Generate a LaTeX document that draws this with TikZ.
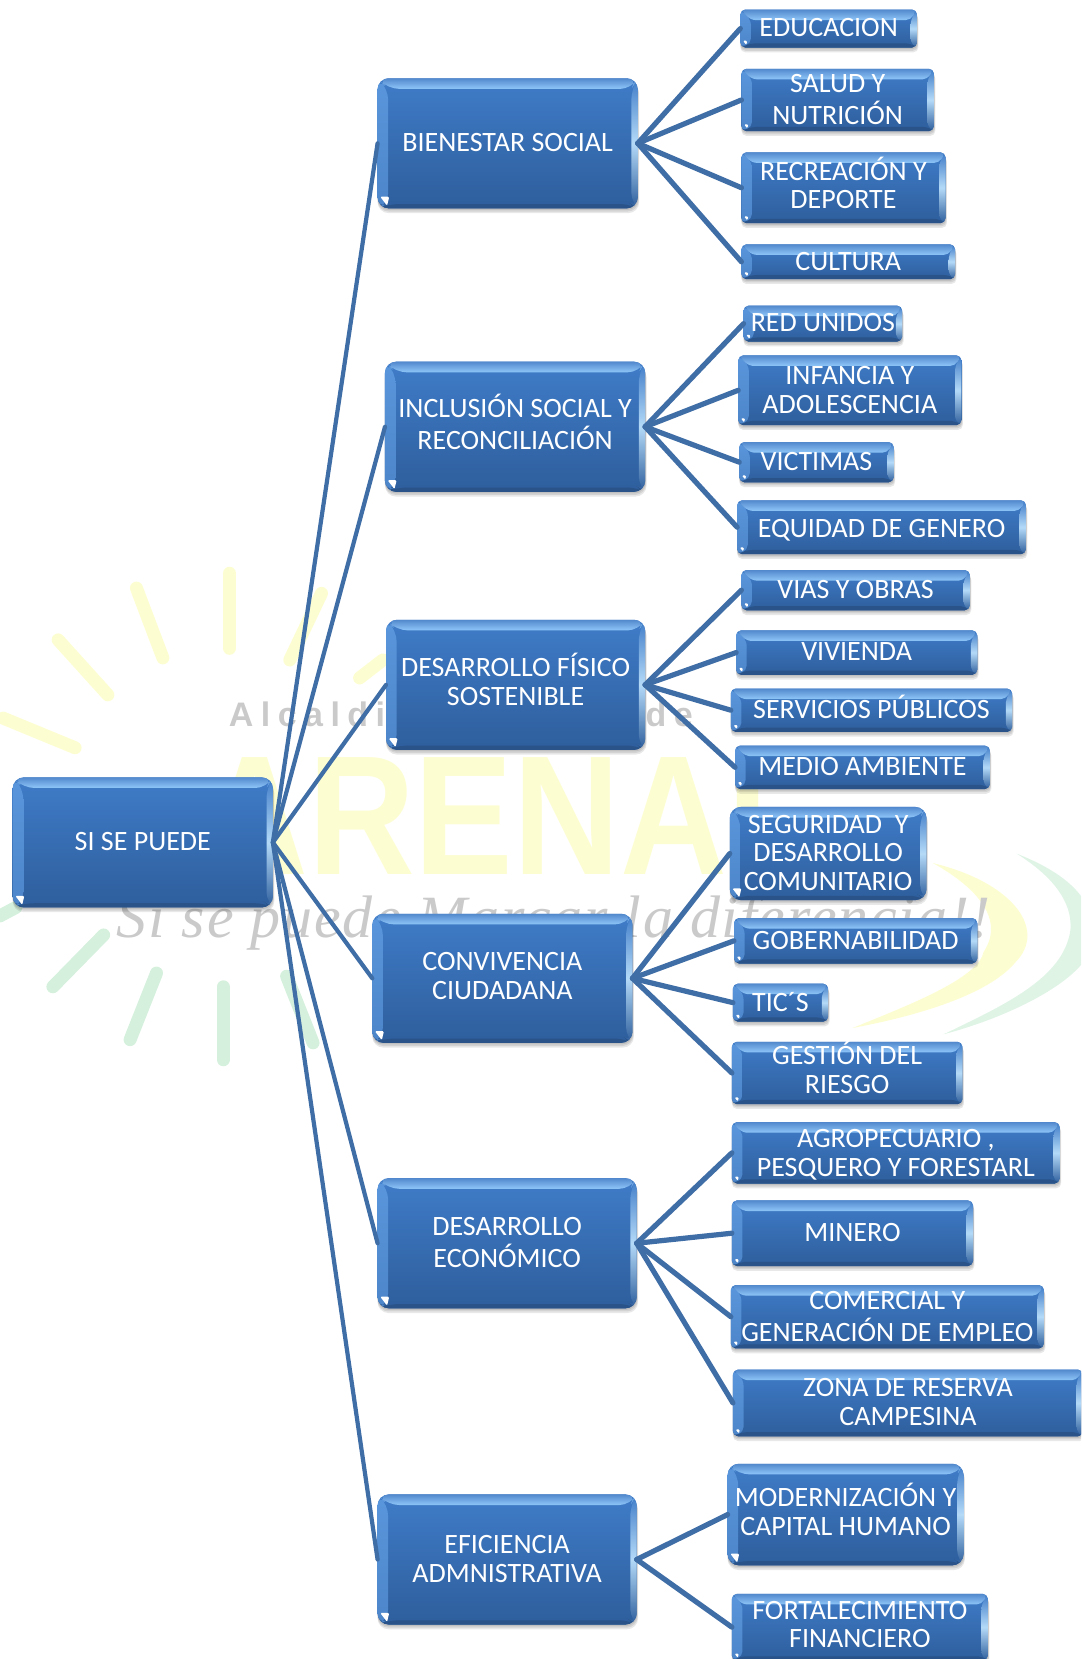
\documentclass[tikz,border=0pt]{standalone}
\usepackage{fontspec}
\setmainfont{Carlito}
\newfontfamily\wmsans[LetterSpace=22]{Liberation Sans}
\newfontfamily\wmbig{Liberation Sans}
\newfontfamily\wmscript[LetterSpace=3]{Liberation Serif}
\usetikzlibrary{calc}
\definecolor{rayY}{HTML}{FDFDD2}
\definecolor{rayG}{HTML}{D6F0DE}
\definecolor{wmGray}{HTML}{CACACA}
\definecolor{lnk}{HTML}{3F6DA6}
\definecolor{bodyT}{HTML}{3F7CC8}
\definecolor{bodyB}{HTML}{2E5E9C}
\definecolor{bevTop}{HTML}{8FC6F8}
\definecolor{bevRight}{HTML}{B4DAF8}
\definecolor{bevLeft}{HTML}{5A96DC}
\newcommand{\un}{0.5288}
\renewcommand{\arraystretch}{0.94}
\tikzset{
  yray/.style={line width=6.5pt,line cap=round,rayY},
  gray ray/.style={line width=6.5pt,line cap=round,rayG},
  link/.style={draw=lnk,line width=2.6pt,line cap=round},
  rootlink/.style={draw=lnk,line width=2.1pt,line cap=round},
  boxshadow/.style={fill=black,fill opacity=0.09},
  gbox/.style={rectangle,inner sep=0pt,outer sep=0pt,text=white,
    top color=bodyT,bottom color=bodyB,draw=none,
    font=\fontsize{14}{15.3}\selectfont,
    path picture={
      \coordinate (nw) at (path picture bounding box.north west);
      \coordinate (ne) at (path picture bounding box.north east);
      \coordinate (sw) at (path picture bounding box.south west);
      \coordinate (se) at (path picture bounding box.south east);
      \shade[top color=bevLeft,bottom color=bevLeft!70!bodyB] (nw) -- ($(nw)+(10,10)$) -- ($(sw)+(10,-4)$) -- (sw) -- cycle;
      \shade[top color=bodyT,bottom color=bodyB,middle color=bevRight] (ne) -- ($(ne)+(-6,10)$) -- ($(se)+(-6,-4)$) -- (se) -- cycle;
      \fill[bodyB!88!black] (sw) -- ($(sw)+(10,-4)$) -- ($(se)+(-6,-4)$) -- (se) -- cycle;
      \shade[top color=bodyT!90!white,bottom color=bevTop] (nw) -- ($(nw)+(10,10)$) -- ($(ne)+(-6,10)$) -- (ne) -- cycle;
      \fill[white,rounded corners=0.6pt] ($(sw)+(2.5,-3-\nt)$) -- ($(sw)+(3+\nt,-3-\nt)$) -- ($(sw)+(3+0.75*\nt,-2.5)$) -- cycle;
    }},
}
\newcommand{\gbox}[7][0]{%
  \pgfmathsetmacro{\bw}{(#5-#3)*\un}%
  \pgfmathsetmacro{\bh}{(#6-#4)*\un}%
  \pgfmathsetmacro{\nt}{((#6-#4)>80)?8:3.5}%
  \pgfmathsetmacro{\rc}{((#6-#4)>80)?5.5:2.5}%
  \foreach \o in {1.5,3,4.5}{\fill[boxshadow,rounded corners=\rc pt] (#3,{#4+\o}) rectangle ({#5+\o*0.3},{#6+\o});}%
  \node[gbox,rounded corners=\rc pt,minimum width=\bw pt,minimum height=\bh pt] (#2) at ({(#3+#5)/2},{(#4+#6)/2}) {\raisebox{\dimexpr#1pt-1.3pt\relax}[\height][\depth]{\begin{tabular}{@{}c@{}}#7\end{tabular}}};%
}
\begin{document}
\begin{tikzpicture}[x=0.5288pt,y=-0.5288pt]
\useasboundingbox (0,0) rectangle (1022.2,1568.6);
\clip (0,0) rectangle (1022.2,1568.6);
% watermark
\draw[yray] (217,542) -- (217,613);
\draw[yray] (129,556) -- (154,622);
\draw[yray] (55,605) -- (102,657);
\draw[yray] (3,679) -- (71,707);
\draw[yray] (304,561) -- (274,624);
\draw[yray] (362,624) -- (340,641);
\draw[gray ray] (98,884) -- (50,933);
\draw[gray ray] (148,920) -- (123,983);
\draw[gray ray] (211,933) -- (211,1002);
\draw[gray ray] (271,923) -- (296,986);
\draw[gray ray] (0,866) -- (15,858);
\fill[rayG!75!white] (961,807) .. controls (1020,830) and (1040,860) .. (1032,895) .. controls (1025,925) and (960,960) .. (892,978) .. controls (950,950) and (1005,925) .. (1012,880) .. controls (1015,850) and (990,825) .. (961,807) -- cycle;
\fill[rayY] (882,816) .. controls (960,835) and (990,880) .. (960,910) .. controls (935,940) and (870,960) .. (806,972) .. controls (860,950) and (925,925) .. (930,900) .. controls (950,870) and (925,840) .. (882,816) -- cycle;
\node[anchor=west,inner sep=0pt,text=wmGray,font=\wmsans\bfseries\fontsize{17}{18}\selectfont] (wma) at (216,675) {Alcaldi};
\node[anchor=west,inner sep=0pt,text=wmGray,font=\wmsans\bfseries\fontsize{17}{18}\selectfont] (wmb) at (610,675) {de};
\node[anchor=west,inner sep=0pt,text=rayY,font=\wmbig\bfseries\fontsize{85}{85}\selectfont] (wmc) at (190,772) {\scalebox{0.87}[1]{ARENAL}};
\node[anchor=west,inner sep=0pt,text=wmGray,font=\wmscript\itshape\fontsize{30}{30}\selectfont] (wmd) at (110,872) {Si se puede Marcar la diferencia!!};
% boxes
\gbox{root}{12}{735}{258}{858}{SI SE PUEDE}
\gbox{a}{357}{74}{603}{197}{BIENESTAR SOCIAL}
\gbox[1.8]{b}{364}{342}{610}{465}{INCLUSIÓN SOCIAL Y\\RECONCILIACIÓN}
\gbox[2]{c}{365}{586}{610}{709}{DESARROLLO FÍSICO\\SOSTENIBLE}
\gbox[1]{d}{352}{864}{598}{986}{CONVIVENCIA\\CIUDADANA}
\gbox{e}{357}{1114}{602}{1237}{DESARROLLO\\ECONÓMICO}
\gbox{f}{357}{1413}{602}{1536}{EFICIENCIA\\ADMNISTRATIVA}
\gbox{a1}{700}{9}{867}{45}{EDUCACION}
\gbox{a2}{701}{65}{883}{124}{SALUD Y\\NUTRICIÓN}
\gbox[1.6]{a3}{701}{144}{894}{211}{RECREACIÓN Y\\DEPORTE}
\gbox{a4}{701}{231}{903}{264}{CULTURA}
\gbox{b1}{703}{289}{853}{323}{RED UNIDOS}
\gbox{b2}{698}{336}{909}{402}{INFANCIA Y\\ADOLESCENCIA}
\gbox{b3}{699}{418}{845}{456}{VICTIMAS}
\gbox[-1]{b4}{697}{473}{970}{524}{EQUIDAD DE GENERO}
\gbox{c1}{701}{539}{917}{577}{VIAS Y OBRAS}
\gbox{c2}{696}{596}{924}{638}{VIVIENDA}
\gbox[1]{c3}{691}{651}{957}{692}{SERVICIOS PÚBLICOS}
\gbox{c4}{695}{705}{936}{746}{MEDIO AMBIENTE}
\gbox{d1}{690}{763}{876}{851}{SEGURIDAD\ \ Y\\DESARROLLO\\COMUNITARIO}
\gbox{d2}{694}{868}{924}{911}{GOBERNABILIDAD}
\gbox{d3}{693}{930}{783}{966}{TIC´S}
\gbox[1.8]{d4}{692}{985}{910}{1044}{GESTIÓN DEL\\RIESGO}
\gbox[-0.5]{e1}{692}{1061}{1002}{1119}{AGROPECUARIO ,\\PESQUERO Y FORESTARL}
\gbox{e2}{692}{1135}{920}{1197}{MINERO}
\gbox{e3}{691}{1215}{987}{1275}{COMERCIAL Y\\GENERACIÓN DE EMPLEO}
\gbox{e4}{693}{1295}{1024}{1358}{ZONA DE RESERVA\\CAMPESINA}
\gbox[1.8]{f1}{688}{1384}{911}{1480}{MODERNIZACIÓN Y\\CAPITAL HUMANO}
\gbox[1]{f2}{692}{1507}{934}{1570}{FORTALECIMIENTO\\FINANCIERO}
% connectors
\foreach \k in {a,b,c,d,e,f}{\draw[rootlink] (root.east) -- (\k.west);}
\foreach \k in {a1,a2,a3,a4}{\draw[link] (a.east) -- (\k.west);}
\foreach \k in {b1,b2,b3,b4}{\draw[link] (b.east) -- (\k.west);}
\foreach \k in {c1,c2,c3,c4}{\draw[link] (c.east) -- (\k.west);}
\foreach \k in {d1,d2,d3,d4}{\draw[link] (d.east) -- (\k.west);}
\foreach \k in {e1,e2,e3,e4}{\draw[link] (e.east) -- (\k.west);}
\foreach \k in {f1,f2}{\draw[link] (f.east) -- (\k.west);}
\end{tikzpicture}
\end{document}
